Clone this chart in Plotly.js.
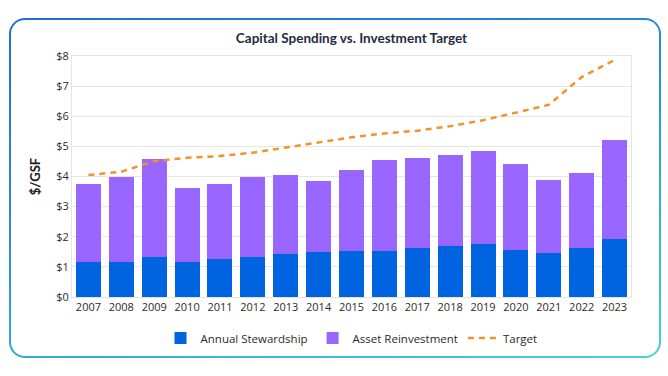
<!DOCTYPE html>
<html>
<head>
<meta charset="utf-8">
<script src="https://cdn.plot.ly/plotly-3.0.1.min.js"></script>
<style>
  html, body { margin: 0; padding: 0; background: #ffffff; }
  #wrap { position: relative; width: 668px; height: 376px; overflow: hidden; }
  #frame { position: absolute; left: 9px; top: 18px; width: 652px; height: 340px; border-radius: 16px;
           background: linear-gradient(165deg, #1b6fcf 0%, #2a8fd6 45%, #44d3d3 100%); }
  #frameInner { position: absolute; left: 2px; top: 2px; right: 2px; bottom: 2px; border-radius: 14px; background: #fff; }
  #chart { position: absolute; left: 0; top: 0; width: 668px; height: 376px; }
</style>
</head>
<body>
<div id="wrap">
  <div id="frame"><div id="frameInner"></div></div>
  <div id="chart"></div>
</div>
<script>
const years = ['2007','2008','2009','2010','2011','2012','2013','2014','2015','2016','2017','2018','2019','2020','2021','2022','2023'];
const annualStewardship = [1.15, 1.17, 1.32, 1.17, 1.26, 1.34, 1.44, 1.50, 1.54, 1.54, 1.62, 1.70, 1.77, 1.57, 1.46, 1.64, 1.94];
const assetReinvestment = [2.59, 2.82, 3.25, 2.46, 2.48, 2.64, 2.61, 2.36, 2.66, 3.00, 3.01, 3.00, 3.08, 2.83, 2.42, 2.49, 3.26];
const target = [4.05, 4.16, 4.51, 4.62, 4.68, 4.79, 4.96, 5.14, 5.30, 5.43, 5.52, 5.67, 5.87, 6.12, 6.38, 7.30, 7.87];
const yTickVals = [0, 1, 2, 3, 4, 5, 6, 7, 8];
const yTickText = yTickVals.map(v => '$' + v);

const data = [
  { type: 'bar', name: 'Annual Stewardship', x: years, y: annualStewardship,
    marker: { color: '#0064e0' } },
  { type: 'bar', name: 'Asset Reinvestment', x: years, y: assetReinvestment,
    marker: { color: '#9966ff' } },
  { type: 'scatter', mode: 'lines', name: 'Target', x: years, y: target,
    line: { color: '#f0932b', width: 2.5, dash: '6px,5px' } }
];

const layout = {
  width: 668, height: 376,
  paper_bgcolor: 'rgba(0,0,0,0)', plot_bgcolor: 'rgba(0,0,0,0)',
  margin: { l: 72, r: 37, t: 56, b: 79 },
  barmode: 'stack', bargap: 0.24,
  font: { family: 'Open Sans, sans-serif', color: '#2b2b2b', size: 11 },
  title: { text: 'Capital Spending vs. Investment Target', x: 0.5, xref: 'paper', y: 0.897, yref: 'container', yanchor: 'middle',
           font: { family: 'Lato, sans-serif', size: 13.5, color: '#1f2a44', weight: 'bold' } },
  xaxis: { type: 'category', showgrid: false, showline: true, linecolor: '#e4e4e4', mirror: true,
           ticks: '', tickfont: { size: 11, color: '#2b2b2b' } },
  yaxis: { range: [0, 8], tickmode: 'array', tickvals: yTickVals, ticktext: yTickText, showgrid: true, gridcolor: '#e6e6e6',
           showline: true, linecolor: '#e4e4e4', mirror: true, zeroline: false, ticks: '',
           tickfont: { size: 11, color: '#2b2b2b' },
           title: { text: '$/GSF', standoff: 12, font: { family: 'Lato, sans-serif', size: 13, color: '#1a1a1a', weight: 'bold' } } },
  legend: { orientation: 'h', x: 0.5, xanchor: 'center', y: -0.11, yanchor: 'top', itemwidth: 30,
            font: { size: 11.5, color: '#2b2b2b' }, traceorder: 'normal' },
  showlegend: true
};

Plotly.newPlot('chart', data, layout, { displayModeBar: false, staticPlot: true });
</script>
</body>
</html>
